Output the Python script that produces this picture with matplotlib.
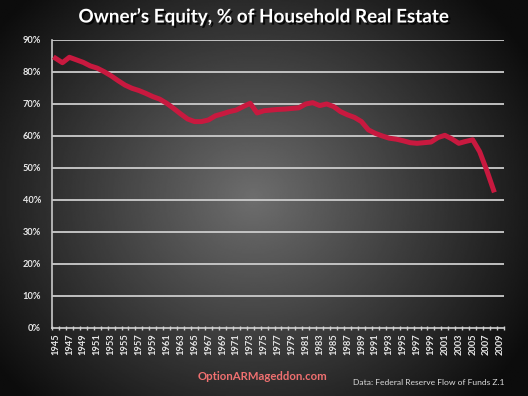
import matplotlib
matplotlib.use('Agg')
import matplotlib.pyplot as plt
import matplotlib.patheffects as pe
import numpy as np

""" --- data --- """
years = list(range(1945, 2009))
equity = [84.3, 82.9, 84.6, 83.8, 83.0, 81.9, 81.2, 80.1, 78.8, 77.3,
          75.9, 74.9, 74.2, 73.3, 72.3, 71.5, 70.2, 68.6, 66.9, 65.3,
          64.5, 64.5, 65.0, 66.3, 66.9, 67.6, 68.1, 69.2, 70.2, 67.2,
          67.9, 68.1, 68.3, 68.4, 68.6, 68.8, 70.0, 70.4, 69.5, 70.0,
          69.2, 67.6, 66.6, 65.8, 64.5, 61.9, 60.8, 60.0, 59.3, 59.0,
          58.5, 57.9, 57.7, 57.9, 58.1, 59.5, 60.2, 59.1, 57.7, 58.3,
          58.8, 55.1, 49.4, 43.1]
yticks = [0, 10, 20, 30, 40, 50, 60, 70, 80, 90]
xlabel_years = list(range(1945, 2010, 2))

TITLE = 'Owner\u2019s Equity, % of Household Real Estate'
SITE = 'OptionARMageddon.com'
SOURCE = 'Data: Federal Reserve Flow of Funds Z.1'


def main_plot():
    fig = plt.figure(figsize=(5.28, 3.96), dpi=100)

    # radial gray background
    bg = fig.add_axes([0, 0, 1, 1], zorder=-10)
    gx, gy = np.meshgrid(np.linspace(0, 1, 400), np.linspace(0, 1, 300))
    r = np.sqrt(((gx - 0.48) / 0.6) ** 2 + ((gy - 0.5) / 0.72) ** 2)
    shade = np.clip(0.43 - 0.38 * r, 0.05, 1)
    bg.imshow(shade, cmap='gray', vmin=0, vmax=1, extent=[0, 1, 0, 1],
              aspect='auto', origin='lower')
    bg.axis('off')

    ax = fig.add_axes([0.0985, 0.172, 0.856, 0.727])
    ax.patch.set_alpha(0)
    ax.plot(years, equity, color='#c8193f', lw=3.6, solid_joinstyle='round', zorder=3)

    ax.set_xlim(1944.5, 2009.5)
    ax.set_ylim(0, 90)
    ax.set_yticks(yticks)
    ax.set_yticklabels(['{0}%'.format(v) for v in yticks])
    for v in yticks[1:]:
        ax.axhline(v, color='#cccccc', lw=1.3, zorder=1)

    ax.set_xticks(xlabel_years)
    ax.set_xticklabels([str(y) for y in xlabel_years], rotation=90)
    ax.set_xticks(np.arange(1944.5, 2010, 1), minor=True)
    ax.tick_params(axis='x', which='major', length=0, pad=4)
    ax.tick_params(axis='x', which='minor', length=3, width=1, color='#d0d0d0',
                   direction='inout')
    ax.tick_params(axis='y', length=0, pad=8)
    for lab in ax.get_xticklabels() + ax.get_yticklabels():
        lab.set_color('#e8e8e8')
        lab.set_fontweight('bold')
        lab.set_fontsize(6.7)
        lab.set_family(['Lato', 'DejaVu Sans'])

    for side in ['top', 'right']:
        ax.spines[side].set_visible(False)
    ax.spines['left'].set_color('#c8c8c8')
    ax.spines['bottom'].set_color('#d0d0d0')
    ax.spines['left'].set_linewidth(1.2)
    ax.spines['bottom'].set_linewidth(1.2)

    fig.text(0.5, 0.958, TITLE, ha='center', va='center', color='white',
             fontsize=13.6, fontweight='bold', family=['Lato', 'DejaVu Sans'],
             path_effects=[pe.withSimplePatchShadow(offset=(1.5, -1.5),
                                                    shadow_rgbFace='black', alpha=0.8)])
    fig.text(0.498, 0.048, SITE, ha='center', va='center', color='#f07070',
             fontsize=8.2, fontweight='bold', family=['Lato', 'DejaVu Sans'])
    fig.text(0.8125, 0.035, SOURCE, ha='center', va='center', color='#dcdcdc',
             fontsize=6.1, family=['Lato', 'DejaVu Sans'])

    fig.savefig('out.png', dpi=100)


if __name__ == '__main__':
    main_plot()
